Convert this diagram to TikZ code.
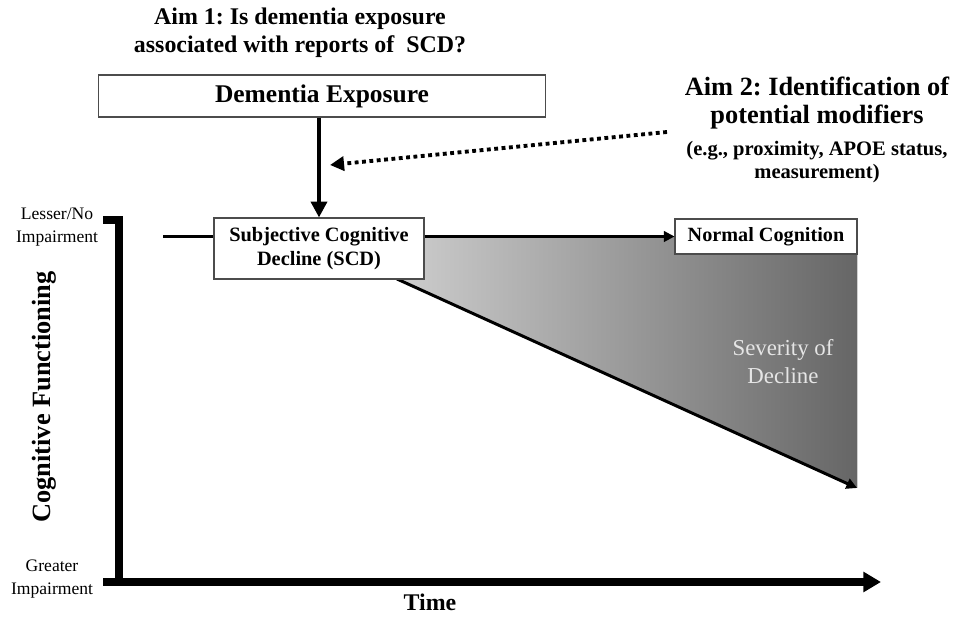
\documentclass[tikz,border=0pt]{standalone}
\usepackage{fontspec}
\setmainfont{Liberation Serif}
\usetikzlibrary{arrows.meta}
\frenchspacing

\tikzset{
  box/.style={draw=black!70, line width=0.6pt, fill=white, inner sep=0pt, align=center},
  axisline/.style={line width=4pt},
  flowline/.style={line width=1.2pt},
  modarrow/.style={line width=2.2pt, dotted, -{Triangle[length=8pt,width=8pt]}},
}

\begin{document}
\begin{tikzpicture}[x=0.02cm, y=-0.02cm]
	  \useasboundingbox (0,0) rectangle (958,618);

	  % titles
	  \node[align=center, font=\fontsize{13.6}{16}\selectfont\bfseries] (aimone) at (300,33)
	    {Aim 1: Is dementia exposure\\associated with reports of\ \ SCD?};
	  \node[align=center, font=\fontsize{15}{16}\selectfont\bfseries] (aimtwo) at (817,103)
	    {Aim 2: Identification of\\potential modifiers};
	  \node[align=center, font=\fontsize{11.7}{13}\selectfont\bfseries] (modlist) at (817,162)
	    {(e.g., proximity, APOE status,\\measurement)};

	  % axes
	  \coordinate (origin) at (119,582);
	  \coordinate (ytop) at (119,220);
	  \coordinate (xend) at (881,582);
	  \draw[axisline] (103,220) -- (ytop) -- (origin);
	  \draw[axisline, -{Triangle[length=10pt,width=11pt]}] (103,582) -- (xend);

	  \node[align=center, font=\fontsize{10}{13}\selectfont] (lesser) at (57,227) {Lesser/No\\Impairment};
	  \node[align=center, font=\fontsize{10}{13}\selectfont] (greater) at (52,579) {Greater\\Impairment};
	  \node[rotate=90, font=\fontsize{15}{18}\selectfont\bfseries] (ylabel) at (44,397) {Cognitive Functioning};
	  \node[font=\fontsize{13.6}{16}\selectfont\bfseries] (xlabel) at (430,602) {Time};

	  % severity of decline
	  \coordinate (dstart) at (397,279);
	  \coordinate (dend) at (857,488);
	  \fill[left color=black!18, right color=black!60] (380,237) -- (857,237) -- (dend) -- (dstart) -- cycle;
	  \draw[line width=1.7pt, -{Triangle[length=6pt,width=6pt]}] (dstart) -- (dend);
	  \node[align=center, text=black!10, font=\fontsize{13}{16}\selectfont] (severity) at (783,362) {Severity of\\Decline};

	  % boxes
	  \node[box, minimum width=8.96cm, minimum height=0.84cm, font=\fontsize{14.5}{17}\selectfont\bfseries] (exposure) at (322,96) {Dementia Exposure};
	  \node[box, minimum width=4.2cm, minimum height=1.22cm, font=\fontsize{11.6}{14}\selectfont\bfseries] (scd) at (319,248.5)
	    {Subjective Cognitive\\Decline (SCD)};
	  \node[box, minimum width=3.64cm, minimum height=0.7cm, font=\fontsize{11.5}{14}\selectfont\bfseries] (normal) at (766,236.5) {Normal Cognition};

	  % connectors
	  \coordinate (lstart) at (163,236.5);
	  \draw[flowline] (lstart) -- (lstart -| scd.west);
	  \draw[flowline, -{Triangle[length=6pt,width=6pt]}] (scd.east |- normal.west) -- (normal.west);
	  \draw[line width=2.2pt, -{Triangle[length=9pt,width=9pt]}] (scd.north |- exposure.south) -- (scd.north);

	  \coordinate (modstart) at (667,132);
	  \coordinate (modend) at (330,165);
	  \draw[modarrow] (modstart) -- (modend);
	\end{tikzpicture}
\end{document}
